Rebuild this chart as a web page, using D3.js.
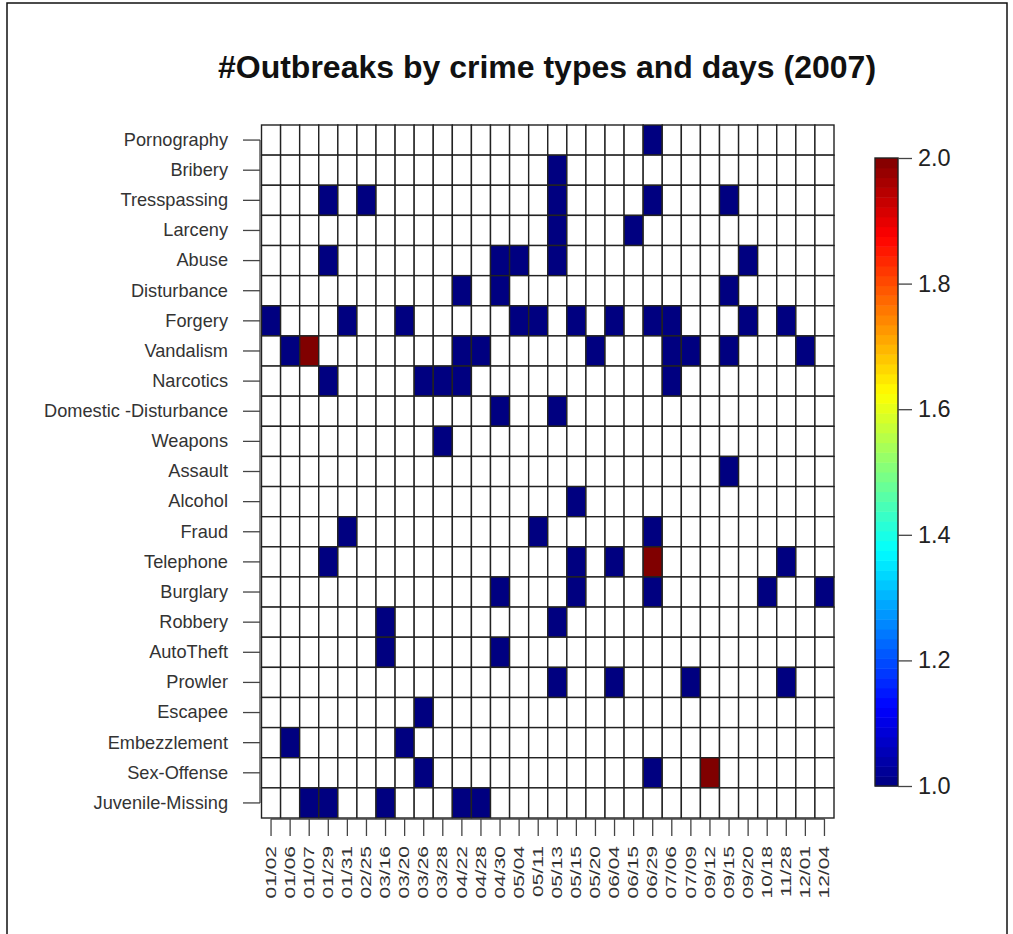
<!DOCTYPE html>
<html><head><meta charset="utf-8">
<script src="https://cdn.jsdelivr.net/npm/d3@7"></script>
<style>
body{margin:0;background:#fff;}
svg{display:block;}
text{font-family:"Liberation Sans",Arial,Helvetica,sans-serif;}
</style>
</head><body>
<svg id="chart" width="1013" height="934"></svg>
<script>
const titleText = "#Outbreaks by crime types and days (2007)";
const crimes = ["Pornography","Bribery","Tresspassing","Larceny","Abuse","Disturbance","Forgery","Vandalism","Narcotics","Domestic -Disturbance","Weapons","Assault","Alcohol","Fraud","Telephone","Burglary","Robbery","AutoTheft","Prowler","Escapee","Embezzlement","Sex-Offense","Juvenile-Missing"];
const dates = ["01/02","01/06","01/07","01/29","01/31","02/25","03/16","03/20","03/26","03/28","04/22","04/28","04/30","05/04","05/11","05/13","05/15","05/20","06/04","06/15","06/29","07/06","07/09","09/12","09/15","09/20","10/18","11/28","12/01","12/04"];
// counts[crime][date]; 0 = no outbreak
const counts = [
 [0,0,0,0,0, 0,0,0,0,0, 0,0,0,0,0, 0,0,0,0,0, 1,0,0,0,0, 0,0,0,0,0],
 [0,0,0,0,0, 0,0,0,0,0, 0,0,0,0,0, 1,0,0,0,0, 0,0,0,0,0, 0,0,0,0,0],
 [0,0,0,1,0, 1,0,0,0,0, 0,0,0,0,0, 1,0,0,0,0, 1,0,0,0,1, 0,0,0,0,0],
 [0,0,0,0,0, 0,0,0,0,0, 0,0,0,0,0, 1,0,0,0,1, 0,0,0,0,0, 0,0,0,0,0],
 [0,0,0,1,0, 0,0,0,0,0, 0,0,1,1,0, 1,0,0,0,0, 0,0,0,0,0, 1,0,0,0,0],
 [0,0,0,0,0, 0,0,0,0,0, 1,0,1,0,0, 0,0,0,0,0, 0,0,0,0,1, 0,0,0,0,0],
 [1,0,0,0,1, 0,0,1,0,0, 0,0,0,1,1, 0,1,0,1,0, 1,1,0,0,0, 1,0,1,0,0],
 [0,1,2,0,0, 0,0,0,0,0, 1,1,0,0,0, 0,0,1,0,0, 0,1,1,0,1, 0,0,0,1,0],
 [0,0,0,1,0, 0,0,0,1,1, 1,0,0,0,0, 0,0,0,0,0, 0,1,0,0,0, 0,0,0,0,0],
 [0,0,0,0,0, 0,0,0,0,0, 0,0,1,0,0, 1,0,0,0,0, 0,0,0,0,0, 0,0,0,0,0],
 [0,0,0,0,0, 0,0,0,0,1, 0,0,0,0,0, 0,0,0,0,0, 0,0,0,0,0, 0,0,0,0,0],
 [0,0,0,0,0, 0,0,0,0,0, 0,0,0,0,0, 0,0,0,0,0, 0,0,0,0,1, 0,0,0,0,0],
 [0,0,0,0,0, 0,0,0,0,0, 0,0,0,0,0, 0,1,0,0,0, 0,0,0,0,0, 0,0,0,0,0],
 [0,0,0,0,1, 0,0,0,0,0, 0,0,0,0,1, 0,0,0,0,0, 1,0,0,0,0, 0,0,0,0,0],
 [0,0,0,1,0, 0,0,0,0,0, 0,0,0,0,0, 0,1,0,1,0, 2,0,0,0,0, 0,0,1,0,0],
 [0,0,0,0,0, 0,0,0,0,0, 0,0,1,0,0, 0,1,0,0,0, 1,0,0,0,0, 0,1,0,0,1],
 [0,0,0,0,0, 0,1,0,0,0, 0,0,0,0,0, 1,0,0,0,0, 0,0,0,0,0, 0,0,0,0,0],
 [0,0,0,0,0, 0,1,0,0,0, 0,0,1,0,0, 0,0,0,0,0, 0,0,0,0,0, 0,0,0,0,0],
 [0,0,0,0,0, 0,0,0,0,0, 0,0,0,0,0, 1,0,0,1,0, 0,0,1,0,0, 0,0,1,0,0],
 [0,0,0,0,0, 0,0,0,1,0, 0,0,0,0,0, 0,0,0,0,0, 0,0,0,0,0, 0,0,0,0,0],
 [0,1,0,0,0, 0,0,1,0,0, 0,0,0,0,0, 0,0,0,0,0, 0,0,0,0,0, 0,0,0,0,0],
 [0,0,0,0,0, 0,0,0,1,0, 0,0,0,0,0, 0,0,0,0,0, 1,0,0,2,0, 0,0,0,0,0],
 [0,0,1,1,0, 0,1,0,0,0, 1,1,0,0,0, 0,0,0,0,0, 0,0,0,0,0, 0,0,0,0,0]
];
const colorTicks = [1.0, 1.2, 1.4, 1.6, 1.8, 2.0];
const colorDomain = [1, 2];

const FONT = '"Liberation Sans", Arial, Helvetica, sans-serif';
const svg = d3.select("#chart");

// outer frame
svg.append("rect").attr("x", 7).attr("y", 3).attr("width", 1000).attr("height", 960)
  .attr("fill", "none").attr("stroke", "#111").attr("stroke-width", 1.5);

// jet colormap
const jet = t => {
  const c = v => Math.max(0, Math.min(1, v));
  return d3.rgb(255 * c(1.5 - Math.abs(4 * t - 3)), 255 * c(1.5 - Math.abs(4 * t - 2)), 255 * c(1.5 - Math.abs(4 * t - 1))).formatHex();
};
const color = d3.scaleSequential(jet).domain(colorDomain);

const x = d3.scaleBand().domain(dates).range([261.5, 834]);
const y = d3.scaleBand().domain(crimes).range([125, 818]);

// title
svg.append("text").attr("x", 547).attr("y", 78).attr("text-anchor", "middle")
  .attr("font-family", FONT).attr("font-weight", "bold").attr("font-size", "32px").attr("fill", "#111")
  .text(titleText);

// cells
const cells = [];
crimes.forEach((c, i) => dates.forEach((d, j) => cells.push({ crime: c, date: d, v: counts[i][j] })));
svg.append("g").selectAll("rect").data(cells).join("rect")
  .attr("x", d => x(d.date)).attr("y", d => y(d.crime))
  .attr("width", x.bandwidth()).attr("height", y.bandwidth())
  .attr("fill", d => d.v > 0 ? color(d.v) : "#fff")
  .attr("stroke", "#222").attr("stroke-width", 1.4);

// y axis
const gy = svg.append("g").attr("transform", "translate(260,0)")
  .call(d3.axisLeft(y).tickSize(17).tickPadding(15));
gy.attr("font-family", FONT).attr("font-size", null);
gy.select(".domain").remove();
gy.selectAll(".tick line").attr("stroke", "#444").attr("stroke-width", 1.3);
gy.selectAll(".tick text").attr("font-size", "18.2px").attr("fill", "#333");
gy.append("line").attr("x1", 0).attr("x2", 0)
  .attr("y1", y(crimes[0]) + y.bandwidth() / 2)
  .attr("y2", y(crimes[crimes.length - 1]) + y.bandwidth() / 2)
  .attr("stroke", "#444").attr("stroke-width", 1.3);

// x axis
const gx = svg.append("g").attr("transform", "translate(0,819)")
  .call(d3.axisBottom(x).tickSize(17));
gx.attr("font-family", FONT).attr("font-size", null);
gx.select(".domain").remove();
gx.selectAll(".tick line").attr("stroke", "#444").attr("stroke-width", 1.3);
gx.selectAll(".tick text").remove();
gx.selectAll(".tick").append("text")
  .attr("transform", "translate(0,27) rotate(-90) scale(1.5,1)")
  .attr("text-anchor", "end").attr("dominant-baseline", "central")
  .attr("font-size", "14px").attr("fill", "#333")
  .text(d => d);
gx.append("line").attr("y1", 0).attr("y2", 0)
  .attr("x1", x(dates[0]) + x.bandwidth() / 2)
  .attr("x2", x(dates[dates.length - 1]) + x.bandwidth() / 2)
  .attr("stroke", "#444").attr("stroke-width", 1.3);

// colour bar
const cy = d3.scaleLinear().domain(colorDomain).range([786, 158]);
const nBands = 64;
const step = (colorDomain[1] - colorDomain[0]) / nBands;
const bands = d3.range(nBands).map(k => colorDomain[0] + k * step);
const gc = svg.append("g");
gc.selectAll("rect").data(bands).join("rect")
  .attr("x", 875).attr("width", 23)
  .attr("y", d => cy(d + step)).attr("height", d => cy(d) - cy(d + step) + 0.5)
  .attr("fill", d => color(d + step / 2));
gc.append("rect").attr("x", 875).attr("y", cy(colorDomain[1])).attr("width", 23)
  .attr("height", cy(colorDomain[0]) - cy(colorDomain[1]))
  .attr("fill", "none").attr("stroke", "#222").attr("stroke-width", 1.4);
const gca = svg.append("g").attr("transform", "translate(898,0)")
  .call(d3.axisRight(cy).tickValues(colorTicks).tickSize(14).tickPadding(6).tickFormat(d3.format(".1f")));
gca.attr("font-family", FONT).attr("font-size", null);
gca.select(".domain").remove();
gca.selectAll(".tick line").attr("stroke", "#444").attr("stroke-width", 1.3);
gca.selectAll(".tick text").attr("font-size", "23.5px").attr("fill", "#222");
</script>
</body></html>
